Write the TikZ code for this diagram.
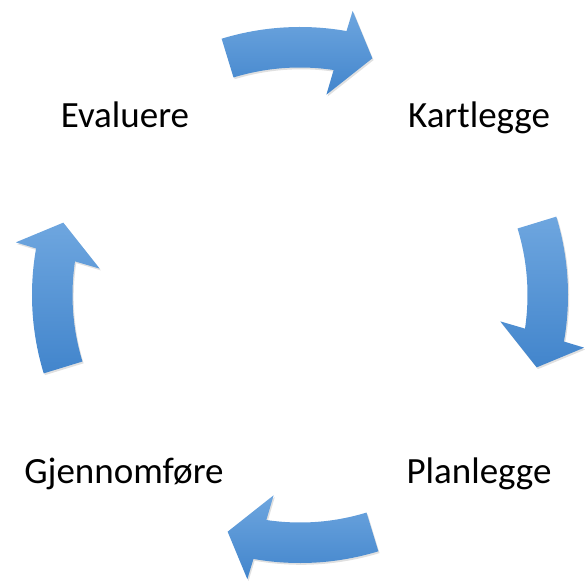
\documentclass[tikz,border=0pt]{standalone}
\usepackage{fontspec}
\setmainfont{Carlito}
\definecolor{arrtop}{RGB}{110,166,223}
\definecolor{arrbot}{RGB}{66,133,204}
\tikzset{
  cyclearrow/.style={top color=arrtop, bottom color=arrbot, draw=none},
  arrshadow/.style={fill=black, opacity=0.12, draw=none},
  lbl/.style={font=\fontsize{37}{44}\selectfont, anchor=base, inner sep=0pt, text=black}
}
\begin{document}
\begin{tikzpicture}[x=1pt,y=1pt]
\useasboundingbox (-300,-288) rectangle (285,295);
\def\Ri{227.5}
\def\Ro{268}
\foreach \t in {90,0,-90,180}{
  \pgfmathsetmacro\ta{\t+17}
  \pgfmathsetmacro\tb{\t-10}
  \pgfmathsetmacro\tc{\t-10.5}
  \pgfmathsetmacro\td{\t-17}
  \pgfmathsetmacro\te{\t-7.5}
  \pgfmathsetmacro\tf{\t-8.5}
  \begin{scope}[shift={(1.2,-1.8)}]
    \path[arrshadow] (\ta:\Ro) arc[start angle=\ta, end angle=\tb, radius=\Ro]
      -- (\tc:289) -- (\td:247.5) -- (\te:202) -- (\tf:\Ri)
      arc[start angle=\tf, end angle=\ta, radius=\Ri] -- cycle;
  \end{scope}
  \shade[cyclearrow] (\ta:\Ro) arc[start angle=\ta, end angle=\tb, radius=\Ro]
    -- (\tc:289) -- (\td:247.5) -- (\te:202) -- (\tf:\Ri)
    arc[start angle=\tf, end angle=\ta, radius=\Ri] -- cycle;
}
\node[lbl] (evaluere) at (-175,167.5) {Evaluere};
\node[lbl] (kartlegge) at (179,167.5) {Kartlegge};
\node[lbl] (planlegge) at (179,-188) {Planlegge};
\node[lbl] (gjennomfore) at (-176,-188) {Gjennomføre};
\end{tikzpicture}
\end{document}
